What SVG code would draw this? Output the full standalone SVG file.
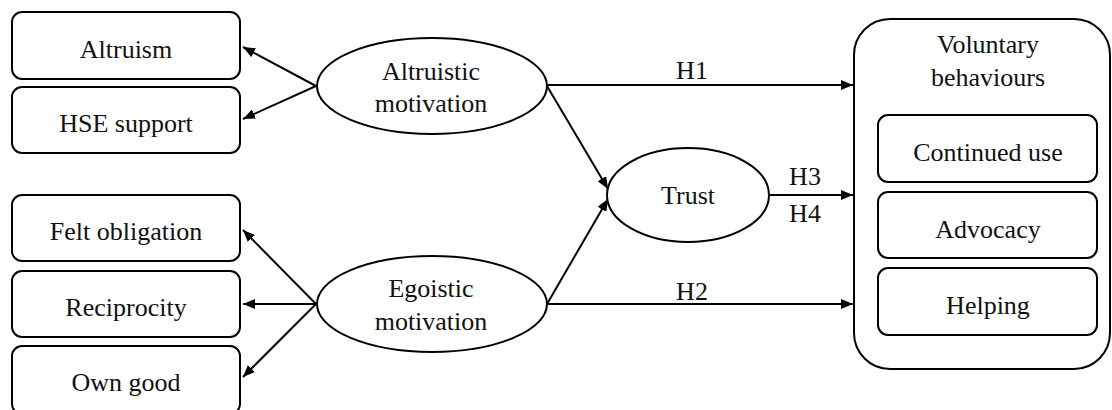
<svg xmlns="http://www.w3.org/2000/svg" width="1112" height="410" viewBox="0 0 1112 410">
<defs>
<style>
.box{fill:#fff;stroke:#000;stroke-width:2}
.ell{fill:#fff;stroke:#000;stroke-width:2}
.t{font-family:"Liberation Serif","Times New Roman",serif;font-size:26px;fill:#111;text-anchor:middle}
.c{fill:none;stroke:#000;stroke-width:2}
</style>
<marker id="ah" viewBox="0 0 12 10" refX="12" refY="5" markerWidth="12" markerHeight="10" markerUnits="userSpaceOnUse" orient="auto">
<path d="M0,0 L12,5 L0,10 z" fill="#000"/>
</marker>
</defs>
<rect width="1112" height="410" fill="#fff"/>
<g id="connectors">
<line class="c" x1="316" y1="86" x2="243" y2="47" marker-end="url(#ah)"/>
<line class="c" x1="316" y1="86" x2="243" y2="119" marker-end="url(#ah)"/>
<line class="c" x1="316" y1="304" x2="243" y2="230" marker-end="url(#ah)"/>
<line class="c" x1="316" y1="304" x2="243" y2="304" marker-end="url(#ah)"/>
<line class="c" x1="316" y1="304" x2="243" y2="377" marker-end="url(#ah)"/>
<line class="c" x1="547" y1="86" x2="608" y2="189" marker-end="url(#ah)"/>
<line class="c" x1="547" y1="304" x2="608" y2="199" marker-end="url(#ah)"/>
<line class="c" x1="547" y1="85" x2="853" y2="85" marker-end="url(#ah)"/>
<line class="c" x1="769" y1="195" x2="853" y2="195" marker-end="url(#ah)"/>
<line class="c" x1="547" y1="304" x2="853" y2="304" marker-end="url(#ah)"/>
<text class="t" x="692" y="79">H1</text>
<text class="t" x="805" y="185">H3</text>
<text class="t" x="805" y="222">H4</text>
<text class="t" x="692" y="300">H2</text>
</g>
<g id="altruism"><rect class="box" x="12" y="12" width="228" height="67" rx="10"/><text class="t" x="126" y="58">Altruism</text></g>
<g id="hse-support"><rect class="box" x="12" y="87" width="228" height="66" rx="10"/><text class="t" x="126" y="132">HSE support</text></g>
<g id="felt-obligation"><rect class="box" x="12" y="195" width="228" height="66" rx="10"/><text class="t" x="126" y="240">Felt obligation</text></g>
<g id="reciprocity"><rect class="box" x="12" y="271" width="228" height="66" rx="10"/><text class="t" x="126" y="316">Reciprocity</text></g>
<g id="own-good"><rect class="box" x="12" y="346" width="228" height="68" rx="10"/><text class="t" x="126" y="391">Own good</text></g>
<g id="altruistic-motivation"><ellipse class="ell" cx="432" cy="86" rx="115" ry="48"/><text class="t" x="431" y="80">Altruistic</text><text class="t" x="431" y="112">motivation</text></g>
<g id="egoistic-motivation"><ellipse class="ell" cx="432" cy="304" rx="115" ry="48"/><text class="t" x="431" y="297">Egoistic</text><text class="t" x="431" y="330">motivation</text></g>
<g id="trust"><ellipse class="ell" cx="688" cy="195" rx="81" ry="47"/><text class="t" x="688" y="204">Trust</text></g>
<g id="voluntary-behaviours"><rect class="box" x="854" y="19" width="256" height="350" rx="36"/><text class="t" x="988" y="53">Voluntary</text><text class="t" x="988" y="86">behaviours</text></g>
<g id="continued-use"><rect class="box" x="878" y="115" width="219" height="67" rx="10"/><text class="t" x="988" y="161">Continued use</text></g>
<g id="advocacy"><rect class="box" x="878" y="192" width="219" height="66" rx="10"/><text class="t" x="988" y="238">Advocacy</text></g>
<g id="helping"><rect class="box" x="878" y="268" width="219" height="67" rx="10"/><text class="t" x="988" y="314">Helping</text></g>
</svg>
